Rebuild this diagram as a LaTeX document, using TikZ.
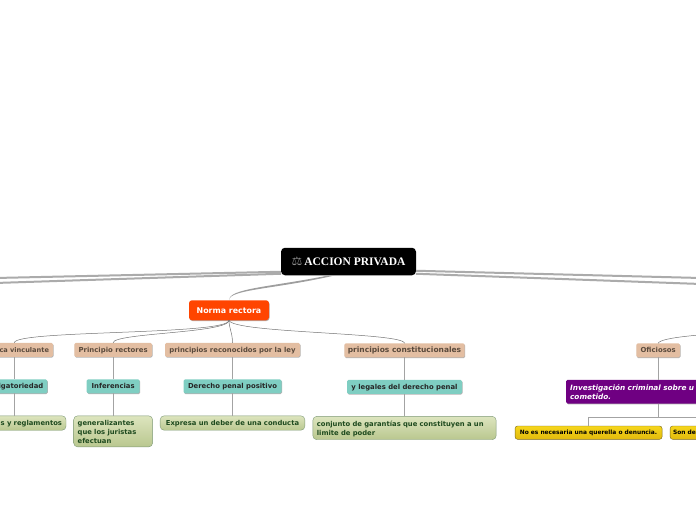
\documentclass[tikz,border=0pt]{standalone}
\usepackage{fontspec}
\usepackage{xcolor}
\usetikzlibrary{positioning,shadows}
\setmainfont{DejaVu Sans}
\newfontfamily\titlefont{Liberation Serif}
\definecolor{tagfill}{HTML}{E3BEA2}
\definecolor{tagtext}{HTML}{5A4A3C}
\definecolor{tealfill}{HTML}{7FCEC2}
\definecolor{rulefill}{HTML}{FF4500}
\definecolor{purplefill}{HTML}{6F0082}
\definecolor{greentop}{HTML}{DDE5BE}
\definecolor{greenlow}{HTML}{B9C78F}
\definecolor{greenline}{HTML}{7F9A78}
\definecolor{greentext}{HTML}{1E4A1E}
\definecolor{goldtop}{HTML}{F6D61C}
\definecolor{goldlow}{HTML}{E2BA0C}
\definecolor{goldline}{HTML}{7A6A20}
\tikzset{
  every node/.style={outer sep=0pt},
  rootbox/.style={
    rectangle,
    rounded corners=4pt,
    fill=black,
    text=white,
    minimum width=135pt,
    minimum height=27.5pt,
    inner sep=0pt,
    font=\titlefont\bfseries\fontsize{11.5}{13}\selectfont
  },
  rulebox/.style={
    rectangle,
    rounded corners=3pt,
    fill=rulefill,
    text=white,
    minimum width=80pt,
    minimum height=20pt,
    inner sep=0pt,
    drop shadow={shadow xshift=0.5pt,shadow yshift=-0.8pt,fill=black!30,opacity=1},
    font=\bfseries\fontsize{7.9}{9}\selectfont
  },
  tagbox/.style={
    rectangle,
    rounded corners=1.5pt,
    fill=tagfill,
    text=tagtext,
    minimum height=14pt,
    text height=6.5pt,
    text depth=1.5pt,
    inner xsep=4pt,
    inner ysep=0pt,
    drop shadow={shadow xshift=0.5pt,shadow yshift=-0.8pt,fill=black!30,opacity=1},
    font=\bfseries\fontsize{6.9}{9}\selectfont
  },
  tealbox/.style={
    rectangle,
    rounded corners=1.5pt,
    fill=tealfill,
    text=black!85,
    minimum height=14pt,
    text height=6.5pt,
    text depth=1.5pt,
    inner xsep=4pt,
    inner ysep=0pt,
    drop shadow={shadow xshift=0.5pt,shadow yshift=-0.8pt,fill=black!30,opacity=1},
    font=\bfseries\fontsize{6.85}{9}\selectfont
  },
  greenbox/.style={
    rectangle,
    rounded corners=4pt,
    draw=greenline,
    top color=greentop,
    bottom color=greenlow,
    text=greentext,
    minimum height=14pt,
    text height=7pt,
    inner xsep=4pt,
    inner ysep=3pt,
    font=\bfseries\fontsize{6.8}{9}\selectfont
  },
  purplebox/.style={
    rectangle,
    rounded corners=1.5pt,
    fill=purplefill,
    text=white,
    minimum width=184pt,
    minimum height=23.7pt,
    inner xsep=4pt,
    inner ysep=0pt,
    text width=176pt,
    align=left,
    drop shadow={shadow xshift=0.5pt,shadow yshift=-0.8pt,fill=black!30,opacity=1},
    font=\bfseries\itshape\fontsize{7.3}{9}\selectfont
  },
  goldbox/.style={
    rectangle,
    rounded corners=2.5pt,
    draw=goldline,
    top color=goldtop,
    bottom color=goldlow,
    text=black,
    minimum height=13.3pt,
    inner xsep=3pt,
    inner ysep=0pt,
    font=\bfseries\fontsize{5.9}{7}\selectfont
  },
  trunk/.style={draw=black!33, line width=2pt},
  taper/.style={fill=black!38},
  curve/.style={draw=black!55, line width=0.5pt},
  stem/.style={draw=black!36, line width=1pt}
}
\begin{document}
\begin{tikzpicture}[x=1pt,y=-1pt,node distance=22.5pt and 20pt]
\useasboundingbox (0,0) rectangle (696,520);
\clip (0,0) rectangle (696,520);

\coordinate (trunkLA) at (-5,278);
\coordinate (trunkLB) at (-5,283);
\coordinate (trunkRA) at (701,278);
\coordinate (trunkRB) at (701,284);
\coordinate (oficEnd) at (745,332);

\node[rootbox] (root) at (348.5,261.5) {{\fontspec{DejaVu Sans}\mdseries\color{black!45}\fontsize{12}{13}\selectfont ⚖}\hspace{2pt}ACCION PRIVADA};
\node[rulebox, below=25pt of root, xshift=-119.5pt] (norma) {Norma rectora};

% left columns
\node[tagbox, text width=69.4pt, align=right, font=\bfseries\fontsize{6.6}{9}\selectfont] (tagA) at (14.3,349.8) {ca vinculante};
\node[tagbox, minimum width=77.7pt, right=21.3pt of tagA] (tagB) {Principio rectores};
\node[tagbox, minimum width=135pt, right=13pt of tagB] (tagC) {principios reconocidos por la ley};
\node[tagbox, minimum width=120.4pt, inner xsep=2pt, right=44.3pt of tagC, yshift=-0.5pt, font=\bfseries\fontsize{7.5}{9}\selectfont] (tagD) {principios constitucionales};

\node[tealbox, text width=58pt, align=right, below=of tagA] (tealA) {igatoriedad};
\node[tealbox, minimum width=53pt, below=of tagB] (tealB) {Inferencias};
\node[tealbox, minimum width=98pt, below=of tagC] (tealC) {Derecho penal positivo};
\node[tealbox, minimum width=115pt, below=of tagD] (tealD) {y legales del derecho penal};

\node[greenbox, text width=95.4pt, align=right, below=of tealA] (greenA) {s y reglamentos};
\node[greenbox, text width=71pt, align=left, below=of tealB] (greenB) {generalizantes\\que los juristas\\efectuan};
\node[greenbox, minimum width=144.7pt, below=of tealC] (greenC) {Expresa un deber de una conducta};
\node[greenbox, text width=175.3pt, align=left, below=of tealD] (greenD) {conjunto de garantías que constituyen a un\\limite de poder};

% right column
\node[tagbox, minimum width=43.7pt, right=171.6pt of tagD] (ofic) {Oficiosos};
\node[purplebox, below=of ofic] (purple) {Investigación criminal sobre u\\cometido.};
\node[goldbox, minimum width=147pt, below=of purple, xshift=-69.6pt] (goldA) {No es necesaria una querella o denuncia.};
\node[goldbox, text width=140pt, align=left, below=of purple, xshift=85pt] (goldB) {Son de};

\draw[trunk] ([yshift=3.5pt]root.south west) -- (trunkLA);
\draw[trunk] ([yshift=1.5pt]root.south west) -- (trunkLB);
\draw[trunk] ([yshift=4.5pt]root.south east) -- (trunkRA);
\draw[trunk] ([yshift=1.5pt]root.south east) -- (trunkRB);
\fill[taper] ([xshift=-19pt]root.south) .. controls +(-60,12) and +(0,-12) .. (norma.north) .. controls +(0,-11) and +(-60,14) .. ([xshift=-13pt]root.south) -- cycle;

\draw[curve] (norma.south) .. controls +(0,15) and +(0,-13) .. (tagA.north);
\draw[curve] (norma.south) .. controls +(0,13) and +(0,-10) .. (tagB.north);
\draw[curve] (norma.south) .. controls +(0,8) and +(0,-10) .. (tagC.north);
\draw[curve] (norma.south) .. controls +(3,13) and +(0,-11) .. (tagD.north);
\draw[curve] (ofic.north) .. controls +(2,-6) and +(-40,2) .. (oficEnd);

\draw[stem] (tagA) -- (tealA);
\draw[stem] (tealA) -- (greenA);
\draw[stem] (tagB) -- (tealB);
\draw[stem] (tealB) -- (greenB);
\draw[stem] (tagC) -- (tealC);
\draw[stem] (tealC) -- (greenC);
\draw[stem] (tagD) -- (tealD);
\draw[stem] (tealD) -- (greenD);
\draw[stem] (ofic) -- (purple);
\draw[stem] (purple.south) -- ++(0,13.5) -| (goldA.north);
\draw[stem] (purple.south) -- ++(0,13.5) -| (goldB.north);

\end{tikzpicture}
\end{document}
